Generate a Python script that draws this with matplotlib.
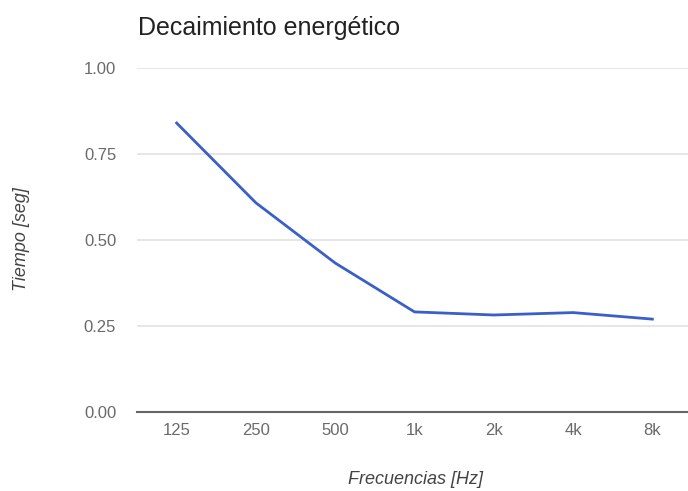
import matplotlib
matplotlib.use("Agg")
import matplotlib.pyplot as plt

# Octave-band reverberation decay times
frequencies = ["125", "250", "500", "1k", "2k", "4k", "8k"]
decay_times = [0.840, 0.608, 0.433, 0.291, 0.282, 0.289, 0.270]
y_ticks = [0.00, 0.25, 0.50, 0.75, 1.00]
y_tick_labels = ["0.00", "0.25", "0.50", "0.75", "1.00"]

W, H = 688, 491
fig = plt.figure(figsize=(W / 100, H / 100), dpi=100)
plt.rcParams["font.family"] = ["Liberation Sans", "DejaVu Sans"]

left, right = 137, 692
bottom, top = 412, 68
ax = fig.add_axes([left / W, 1 - bottom / H, (right - left) / W, (bottom - top) / H])

x = list(range(len(frequencies)))
ax.plot(x, decay_times, color="#3a5fc8", linewidth=2, solid_joinstyle="round", zorder=3)

ax.set_xlim(-0.5, len(frequencies) - 0.5)
ax.set_ylim(0, 1.0)
ax.set_yticks(y_ticks)
ax.set_yticklabels(y_tick_labels)
ax.set_xticks(x)
ax.set_xticklabels(frequencies)

ax.grid(axis="y", color="#e2e2e2", linewidth=1.2)
ax.set_axisbelow(True)
for side in ["top", "right", "left"]:
    ax.spines[side].set_visible(False)
ax.spines["bottom"].set_color("#666666")
ax.spines["bottom"].set_linewidth(1.5)
ax.spines["bottom"].set_zorder(4)
ax.tick_params(axis="both", length=0, labelsize=12, labelcolor="#6a6a6a")
ax.tick_params(axis="y", pad=15)
ax.tick_params(axis="x", pad=8)

fig.text(138 / W, 1 - 28 / H, "Decaimiento energético", fontsize=18,
         color="#222222", va="center", ha="left")
fig.text(415 / W, 1 - 479 / H, "Frecuencias [Hz]", fontsize=13, style="italic",
         color="#444444", ha="center", va="center")
fig.text(22 / W, 1 - 239 / H, "Tiempo [seg]", fontsize=13, style="italic",
         color="#444444", ha="center", va="center", rotation=90)

fig.savefig("out.png", dpi=100, facecolor="white")
